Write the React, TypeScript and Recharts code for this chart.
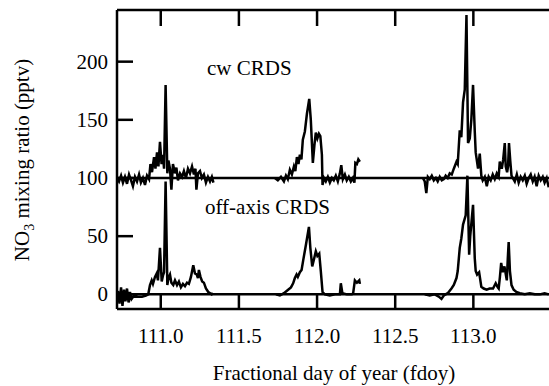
import React from "react";
import { LineChart, Line, XAxis, YAxis, ReferenceLine } from "recharts";

// cw CRDS trace (plotted with +100 pptv offset, as in the figure)
const cwDay = [
  110.720, 110.733, 110.746, 110.758, 110.771, 110.784, 110.797, 110.810, 110.822, 110.835,
  110.848, 110.861, 110.873, 110.886, 110.899, 110.912, 110.925, 110.934, 110.944, 110.957,
  110.966, 110.976, 110.985, 110.995, 111.005, 111.014, 111.021, 111.031, 111.042, 111.049,
  111.059, 111.068, 111.078, 111.091, 111.100, 111.110, 111.123, 111.136, 111.148, 111.161,
  111.174, 111.187, 111.200, 111.212, 111.222, 111.228, 111.238, 111.251, 111.263, 111.276,
  111.289, 111.302, 111.315, 111.327, 111.337,
  111.500,
  111.730, 111.749, 111.769, 111.788, 111.801, 111.813, 111.826, 111.839, 111.852, 111.861,
  111.871, 111.881, 111.890, 111.900, 111.909, 111.922, 111.935, 111.950, 111.960, 111.973,
  111.983, 111.992, 112.002, 112.012, 112.021, 112.031, 112.035, 112.044, 112.056, 112.069,
  112.082, 112.095, 112.107, 112.120, 112.133, 112.146, 112.155, 112.165, 112.178, 112.190,
  112.203, 112.216, 112.229, 112.239, 112.245, 112.255, 112.264, 112.274,
  112.500,
  112.677, 112.689, 112.699, 112.709, 112.721, 112.734, 112.747, 112.760, 112.772, 112.785,
  112.798, 112.811, 112.823, 112.836, 112.849, 112.862, 112.875, 112.892, 112.900, 112.913,
  112.923, 112.934, 112.945, 112.956, 112.966, 112.977, 112.987, 112.998, 113.009, 113.015,
  113.030, 113.041, 113.051, 113.060, 113.073, 113.086, 113.098, 113.111, 113.124, 113.137,
  113.150, 113.162, 113.169, 113.182, 113.191, 113.201, 113.207, 113.216, 113.222, 113.228,
  113.236, 113.244, 113.252, 113.265, 113.278, 113.290, 113.303, 113.316, 113.329, 113.341,
  113.354, 113.367, 113.380, 113.392, 113.405, 113.418, 113.431, 113.444, 113.456, 113.469,
  113.482,
];
const cwValue: (number | null)[] = [
  100, 97, 102, 96, 101, 95, 103, 98, 93, 101,
  97, 103, 96, 100, 94, 102, 99, 112, 105, 118,
  108, 122, 110, 131, 112, 120, 108, 180, 104, 115,
  108, 90, 112, 104, 109, 98, 104, 101, 106, 100,
  108, 104, 110, 103, 108, 90, 104, 106, 100, 103,
  96, 101, 97, 101, 96,
  null,
  100, 98, 101, 97, 102, 99, 107, 103, 110, 106,
  118, 112, 120, 116, 133, 140, 155, 168, 150, 113,
  128, 139, 134, 138, 136, 120, 94, 100, 97, 101,
  96, 100, 98, 102, 97, 104, 111, 99, 103, 98,
  101, 97, 100, 96, 113, 112, 116, 114,
  null,
  100, 97, 87, 101, 99, 102, 98, 100, 97, 101,
  98, 99, 102, 100, 104, 103, 108, 114, 112, 141,
  135, 165, 176, 240, 130, 134, 150, 180, 140, 122,
  108, 121, 102, 98, 101, 93, 101, 98, 103, 99,
  104, 101, 114, 108, 116, 130, 110, 105, 110, 130,
  115, 102, 100, 97, 103, 96, 101, 98, 102, 95,
  100, 103, 97, 101, 93, 102, 98, 101, 96, 100,
  92,
];

// off-axis CRDS trace
const offDay = [
  110.726, 110.736, 110.746, 110.755, 110.765, 110.774, 110.784, 110.794, 110.803, 110.813,
  110.829, 110.854, 110.880, 110.905, 110.920, 110.931, 110.942, 110.950, 110.963, 110.974,
  110.982, 110.995, 111.006, 111.014, 111.021, 111.031, 111.042, 111.049, 111.059, 111.068,
  111.080, 111.091, 111.104, 111.116, 111.129, 111.142, 111.155, 111.168, 111.180, 111.193,
  111.208, 111.219, 111.230, 111.238, 111.244, 111.254, 111.265, 111.276, 111.289, 111.304,
  111.326, 111.334,
  111.500,
  111.737, 111.762, 111.788, 111.815, 111.833, 111.847, 111.858, 111.869, 111.877, 111.890,
  111.901, 111.911, 111.928, 111.948, 111.957, 111.969, 111.980, 111.992, 112.002, 112.014,
  112.024, 112.035, 112.050, 112.082, 112.114, 112.146, 112.152, 112.162, 112.191, 112.223,
  112.231, 112.242, 112.255, 112.270, 112.274,
  112.500,
  112.689, 112.721, 112.753, 112.779, 112.796, 112.811, 112.836, 112.860, 112.875, 112.892,
  112.900, 112.913, 112.923, 112.934, 112.951, 112.962, 112.973, 112.980, 112.988, 112.998,
  113.009, 113.015, 113.024, 113.037, 113.051, 113.066, 113.085, 113.104, 113.126, 113.143,
  113.156, 113.162, 113.170, 113.178, 113.188, 113.199, 113.214, 113.220, 113.226, 113.234,
  113.244, 113.258, 113.275, 113.297, 113.329, 113.361, 113.393, 113.425, 113.456, 113.482,
];
const offValue: (number | null)[] = [
  3, -8, 6, -10, 4, -6, 5, -7, 2, -4,
  -1, -2, -2, -1, 0, 8, 12, 9, 15, 18,
  12, 40, 11, 16, 19, 97, 8, 14, 17, 10,
  8, 12, 8, 11, 6, 9, 7, 10, 9, 15,
  25, 18, 17, 14, 21, 15, 11, 10, 5, 2,
  0, 1,
  null,
  0, -1, 1, 4, 6, 9.5, 14, 17, 15, 19,
  21, 29, 42, 58, 40, 24, 30, 37, 33, 35,
  20, 2, 0, -1, 0, 0, 9.5, 1, 0, 0,
  1, 12, 10, 12, 9,
  null,
  0, -1, 0, -2, -4, -1, 1, 5, 8, 14,
  20, 40, 48, 60, 68, 102, 34, 50, 62, 77,
  31, 20, 17, 19, 6.5, 5, 4, 5, 5, 9.5,
  6, 5, 15, 27, 19, 24, 12, 30, 45, 20,
  8, 4, 2, 1, 0, 1, 0, 0, 1, 0,
];

const xTicks = [111.0, 111.5, 112.0, 112.5, 113.0];
const yTicks = [0, 50, 100, 150, 200];
const xDomain = [110.72, 113.484];
const yDomain = [-12.6, 244.4];

const cwData = cwDay.map((t, i) => ({ t, v: cwValue[i] }));
const offData = offDay.map((t, i) => ({ t, v: offValue[i] }));

const FONT = "'Liberation Serif', 'Times New Roman', serif";
const SW = 2.5;

const BottomTick = (props: any) => {
  const { x, y, payload } = props;
  return (
    <g>
      <line x1={x} y1={y} x2={x} y2={y - 15} stroke="#000" strokeWidth={SW} />
      <text x={x} y={y + 34} textAnchor="middle" fontFamily={FONT} fontSize={21} fill="#000">
        {Number(payload.value).toFixed(1)}
      </text>
    </g>
  );
};

const TopTick = (props: any) => {
  const { x, y } = props;
  return <line x1={x} y1={y} x2={x} y2={y + 16} stroke="#000" strokeWidth={SW} />;
};

const LeftTick = (props: any) => {
  const { x, y, payload } = props;
  return (
    <g>
      <line x1={x} y1={y} x2={x + 16} y2={y} stroke="#000" strokeWidth={SW} />
      <text x={x - 9} y={y + 7} textAnchor="end" fontFamily={FONT} fontSize={21} fill="#000">
        {payload.value}
      </text>
    </g>
  );
};

export default function App() {
  return (
    <div style={{ position: "absolute", left: 0, top: 0, width: 549, height: 386, background: "#fff" }}>
      <LineChart width={549} height={386} margin={{ top: 0, right: 0, bottom: 0, left: 0 }}>
        <XAxis
          xAxisId="bottom"
          type="number"
          dataKey="t"
          domain={xDomain}
          ticks={xTicks}
          allowDataOverflow
          height={77}
          tickSize={0}
          tickMargin={0}
          tickLine={false}
          axisLine={{ stroke: "#000", strokeWidth: SW }}
          tick={<BottomTick />}
          interval={0}
        />
        <XAxis
          xAxisId="top"
          orientation="top"
          type="number"
          dataKey="t"
          domain={xDomain}
          ticks={xTicks}
          allowDataOverflow
          height={10}
          tickSize={0}
          tickMargin={0}
          tickLine={false}
          axisLine={{ stroke: "#000", strokeWidth: SW }}
          tick={<TopTick />}
          interval={0}
        />
        <YAxis
          type="number"
          domain={yDomain}
          ticks={yTicks}
          allowDataOverflow
          width={117}
          tickSize={0}
          tickMargin={0}
          tickLine={false}
          axisLine={{ stroke: "#000", strokeWidth: SW }}
          tick={<LeftTick />}
          interval={0}
        />
        <ReferenceLine xAxisId="bottom" y={0} stroke="#000" strokeWidth={SW} />
        <ReferenceLine xAxisId="bottom" y={100} stroke="#000" strokeWidth={SW} />
        <Line
          xAxisId="bottom"
          data={cwData}
          dataKey="v"
          type="linear"
          stroke="#000"
          strokeWidth={SW}
          dot={false}
          connectNulls={false}
          isAnimationActive={false}
        />
        <Line
          xAxisId="bottom"
          data={offData}
          dataKey="v"
          type="linear"
          stroke="#000"
          strokeWidth={SW}
          dot={false}
          connectNulls={false}
          isAnimationActive={false}
        />
        <text x={207} y={75} fontFamily={FONT} fontSize={21} fill="#000">cw CRDS</text>
        <text x={205} y={214} fontFamily={FONT} fontSize={21} fill="#000">off-axis CRDS</text>
        <text x={334} y={380} textAnchor="middle" fontFamily={FONT} fontSize={21} fill="#000">
          Fractional day of year (fdoy)
        </text>
        <text
          transform="translate(29,160) rotate(-90)"
          textAnchor="middle"
          fontFamily={FONT}
          fontSize={21}
          fill="#000"
        >
          NO<tspan dy={5} fontSize={14}>3</tspan>
          <tspan dy={-5}> mixing ratio (pptv)</tspan>
        </text>
      </LineChart>
    </div>
  );
}
